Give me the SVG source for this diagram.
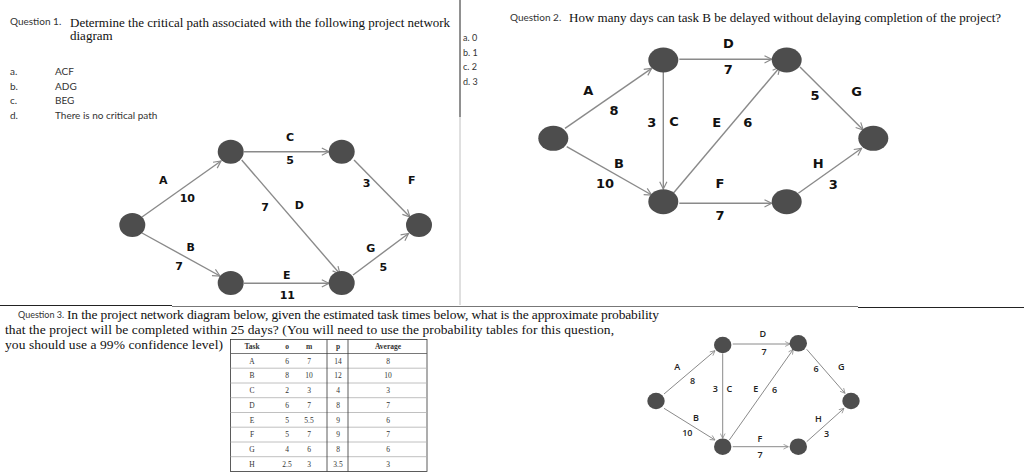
<svg xmlns="http://www.w3.org/2000/svg" width="1024" height="474" viewBox="0 0 1024 474">
<defs>
<marker id="arr" viewBox="0 0 10 10" refX="9" refY="5" markerWidth="9" markerHeight="9" markerUnits="userSpaceOnUse" orient="auto">
<path d="M1,1 L9,5 L1,9" fill="none" stroke="#8a8a8a" stroke-width="1.3"/>
</marker>
<marker id="arrs" viewBox="0 0 10 10" refX="9" refY="5" markerWidth="6" markerHeight="6" markerUnits="userSpaceOnUse" orient="auto">
<path d="M1,1 L9,5 L1,9" fill="none" stroke="#8a8a8a" stroke-width="1.3"/>
</marker>
</defs>
<style>
.q{font-family:"Liberation Serif","Times New Roman",serif;font-size:13px;fill:#111}
.q3{font-size:13.5px}
.s{font-family:Lato,"Liberation Sans",sans-serif;font-size:10px;fill:#333}
.l1{font-family:"DejaVu Sans",Verdana,sans-serif;font-weight:bold;font-size:11px;fill:#111;text-anchor:middle}
.l2{font-family:"DejaVu Sans",Verdana,sans-serif;font-weight:bold;font-size:13px;fill:#111;text-anchor:middle}
.l3{font-family:"Open Sans","Liberation Sans",sans-serif;font-weight:600;font-size:9px;fill:#222;text-anchor:middle}
.n{fill:#4d4d4d}
.e{stroke:#8a8a8a;stroke-width:1.4;fill:none;marker-end:url(#arr)}
.es{stroke:#8a8a8a;stroke-width:1;fill:none;marker-end:url(#arrs)}
.t{font-family:"Liberation Serif","Times New Roman",serif;font-size:7.5px;fill:#333;text-anchor:middle}
.th{font-weight:bold}
.rl{stroke:#b0b0b0;stroke-width:0.8}
.bl{stroke:#333;stroke-width:0.8;fill:none}
</style>
<rect width="1024" height="474" fill="#fff"/>

<g id="dividers">
<line x1="460" y1="0" x2="460" y2="117" stroke="#222" stroke-width="1"/>
<line x1="460" y1="117" x2="460" y2="305" stroke="#c0c0c0" stroke-width="1"/>
<line x1="0" y1="305.5" x2="172" y2="305.5" stroke="#222" stroke-width="1"/>
<line x1="172" y1="306.5" x2="858" y2="306.5" stroke="#777" stroke-width="1"/>
<line x1="858" y1="307.5" x2="1024" y2="307.5" stroke="#222" stroke-width="1"/>
</g>

<g id="question1">
<text class="s" x="10" y="25">Question 1.</text>
<text class="q" x="70" y="27">Determine the critical path associated with the following project network</text>
<text class="q" x="70" y="40">diagram</text>
<text class="s" x="10" y="75">a.</text><text class="s" x="55" y="75">ACF</text>
<text class="s" x="10" y="90">b.</text><text class="s" x="55" y="90">ADG</text>
<text class="s" x="10" y="104">c.</text><text class="s" x="55" y="104">BEG</text>
<text class="s" x="10" y="118.5">d.</text><text class="s" x="55" y="118.5">There is no critical path</text>
</g>

<g id="question2">
<text class="s" x="510" y="21">Question 2.</text>
<text class="q" x="569" y="22">How many days can task B be delayed without delaying completion of the project?</text>
<text class="s" x="463" y="41" style="font-size:9px">a. 0</text>
<text class="s" x="463" y="55.5" style="font-size:9px">b. 1</text>
<text class="s" x="463" y="70" style="font-size:9px">c. 2</text>
<text class="s" x="463" y="84.5" style="font-size:9px">d. 3</text>
</g>

<g id="question3">
<text class="s" x="18" y="318" style="font-size:9px">Question 3.</text>
<text class="q q3" x="67" y="319" textLength="592">In the project network diagram below, given the estimated task times below, what is the approximate probability</text>
<text class="q q3" x="5" y="334" textLength="609">that the project will be completed within 25 days? (You will need to use the probability tables for this question,</text>
<text class="q q3" x="5" y="349" textLength="218">you should use a 99% confidence level)</text>
</g>

<!-- Graph 1 -->
<g id="g1-connectors">
<line class="e" x1="142" y1="217" x2="221" y2="161"/>
<line class="e" x1="142" y1="233" x2="220" y2="276"/>
<line class="e" x1="244" y1="151.7" x2="329" y2="151.7"/>
<line class="e" x1="241.7" y1="160" x2="340" y2="274"/>
<line class="e" x1="244" y1="283.3" x2="329" y2="283.3"/>
<line class="e" x1="354" y1="160" x2="410" y2="217"/>
<line class="e" x1="353" y1="275" x2="408.5" y2="233.5"/>
</g>
<g id="g1-n1"><ellipse class="n" cx="132.3" cy="225" rx="13" ry="12"/></g>
<g id="g1-n2"><ellipse class="n" cx="230.7" cy="151.7" rx="13" ry="12"/></g>
<g id="g1-n3"><ellipse class="n" cx="341.7" cy="151.7" rx="13" ry="12"/></g>
<g id="g1-n4"><ellipse class="n" cx="419" cy="225" rx="13" ry="12"/></g>
<g id="g1-n5"><ellipse class="n" cx="230.7" cy="283" rx="13" ry="12"/></g>
<g id="g1-n6"><ellipse class="n" cx="341.7" cy="283" rx="13" ry="12"/></g>
<g id="g1-labels">
<text class="l1" x="290" y="140.5">C</text>
<text class="l1" x="290" y="164">5</text>
<text class="l1" x="163.3" y="184">A</text>
<text class="l1" x="187.3" y="202.3">10</text>
<text class="l1" x="265" y="210.7">7</text>
<text class="l1" x="299.3" y="209">D</text>
<text class="l1" x="366.7" y="187.3">3</text>
<text class="l1" x="411.7" y="184">F</text>
<text class="l1" x="190.7" y="250.7">B</text>
<text class="l1" x="179" y="270">7</text>
<text class="l1" x="370.7" y="251.7">G</text>
<text class="l1" x="383.3" y="270.7">5</text>
<text class="l1" x="286.7" y="279">E</text>
<text class="l1" x="287.3" y="299">11</text>
</g>

<!-- Graph 2 -->
<g id="g2-connectors">
<line class="e" x1="565" y1="128.3" x2="651.7" y2="68.3"/>
<line class="e" x1="566.7" y1="146.7" x2="651.7" y2="195"/>
<line class="e" x1="663.3" y1="72" x2="663.3" y2="189"/>
<line class="e" x1="679.3" y1="59.3" x2="771.7" y2="59.3"/>
<line class="e" x1="673.3" y1="193.3" x2="780" y2="67"/>
<line class="e" x1="679.3" y1="203.3" x2="771.7" y2="203.3"/>
<line class="e" x1="800" y1="67" x2="863.3" y2="130"/>
<line class="e" x1="798.3" y1="193.3" x2="861.7" y2="148.3"/>
</g>
<g id="g2-n1"><ellipse class="n" cx="553.3" cy="138.3" rx="15" ry="12.5"/></g>
<g id="g2-n2"><ellipse class="n" cx="663.3" cy="60" rx="15" ry="12.5"/></g>
<g id="g2-n3"><ellipse class="n" cx="786.7" cy="60" rx="15" ry="12.5"/></g>
<g id="g2-n4"><ellipse class="n" cx="873.3" cy="138.3" rx="15" ry="12.5"/></g>
<g id="g2-n5"><ellipse class="n" cx="663.3" cy="201.7" rx="15" ry="12.5"/></g>
<g id="g2-n6"><ellipse class="n" cx="786.7" cy="201.7" rx="15" ry="12.5"/></g>
<g id="g2-labels">
<text class="l2" x="728.3" y="48">D</text>
<text class="l2" x="728.3" y="74">7</text>
<text class="l2" x="588.3" y="94.7">A</text>
<text class="l2" x="614" y="114.7">8</text>
<text class="l2" x="651.7" y="127.4">3</text>
<text class="l2" x="674" y="126.4">C</text>
<text class="l2" x="716.7" y="127.4">E</text>
<text class="l2" x="747.7" y="127.4">6</text>
<text class="l2" x="815" y="99.7">5</text>
<text class="l2" x="856.7" y="96.4">G</text>
<text class="l2" x="619" y="168">B</text>
<text class="l2" x="605" y="188">10</text>
<text class="l2" x="720" y="188">F</text>
<text class="l2" x="720" y="219.7">7</text>
<text class="l2" x="818.3" y="168">H</text>
<text class="l2" x="833.3" y="188.7">3</text>
</g>

<!-- Table -->
<g id="table">
<rect class="bl" x="230.5" y="339.5" width="196.5" height="132"/>
<line x1="230.5" y1="353.5" x2="427" y2="353.5" stroke="#555" stroke-width="0.8"/>
<line class="rl" x1="230.5" y1="368.2" x2="427" y2="368.2"/>
<line class="rl" x1="230.5" y1="383" x2="427" y2="383"/>
<line class="rl" x1="230.5" y1="397.7" x2="427" y2="397.7"/>
<line class="rl" x1="230.5" y1="412.5" x2="427" y2="412.5"/>
<line class="rl" x1="230.5" y1="427.2" x2="427" y2="427.2"/>
<line class="rl" x1="230.5" y1="442" x2="427" y2="442"/>
<line class="rl" x1="230.5" y1="456.7" x2="427" y2="456.7"/>
<line x1="327" y1="339.5" x2="327" y2="471.5" stroke="#333" stroke-width="0.8"/>
<line x1="348" y1="339.5" x2="348" y2="471.5" stroke="#333" stroke-width="0.8"/>
<text class="t th" x="252" y="349">Task</text><text class="t th" x="287" y="349">o</text><text class="t th" x="309" y="349">m</text><text class="t th" x="338" y="349">p</text><text class="t th" x="388" y="349">Average</text>
<text class="t" x="252" y="363.5">A</text><text class="t" x="287" y="363.5">6</text><text class="t" x="309" y="363.5">7</text><text class="t" x="338" y="363.5">14</text><text class="t" x="388" y="363.5">8</text>
<text class="t" x="252" y="378.2">B</text><text class="t" x="287" y="378.2">8</text><text class="t" x="309" y="378.2">10</text><text class="t" x="338" y="378.2">12</text><text class="t" x="388" y="378.2">10</text>
<text class="t" x="252" y="393">C</text><text class="t" x="287" y="393">2</text><text class="t" x="309" y="393">3</text><text class="t" x="338" y="393">4</text><text class="t" x="388" y="393">3</text>
<text class="t" x="252" y="407.7">D</text><text class="t" x="287" y="407.7">6</text><text class="t" x="309" y="407.7">7</text><text class="t" x="338" y="407.7">8</text><text class="t" x="388" y="407.7">7</text>
<text class="t" x="252" y="422.5">E</text><text class="t" x="287" y="422.5">5</text><text class="t" x="309" y="422.5">5.5</text><text class="t" x="338" y="422.5">9</text><text class="t" x="388" y="422.5">6</text>
<text class="t" x="252" y="437.2">F</text><text class="t" x="287" y="437.2">5</text><text class="t" x="309" y="437.2">7</text><text class="t" x="338" y="437.2">9</text><text class="t" x="388" y="437.2">7</text>
<text class="t" x="252" y="452">G</text><text class="t" x="287" y="452">4</text><text class="t" x="309" y="452">6</text><text class="t" x="338" y="452">8</text><text class="t" x="388" y="452">6</text>
<text class="t" x="252" y="466.7">H</text><text class="t" x="287" y="466.7">2.5</text><text class="t" x="309" y="466.7">3</text><text class="t" x="338" y="466.7">3.5</text><text class="t" x="388" y="466.7">3</text>
</g>

<!-- Graph 3 -->
<g id="g3-connectors">
<line class="es" x1="664" y1="394" x2="715" y2="350.7"/>
<line class="es" x1="664" y1="408.3" x2="715" y2="440"/>
<line class="es" x1="722.7" y1="353.5" x2="722.7" y2="438.3"/>
<line class="es" x1="732.7" y1="344" x2="790" y2="344"/>
<line class="es" x1="729.3" y1="440" x2="793.3" y2="349.3"/>
<line class="es" x1="732.7" y1="446.7" x2="788.3" y2="446.7"/>
<line class="es" x1="806.7" y1="349.3" x2="845" y2="393.3"/>
<line class="es" x1="806.7" y1="441.7" x2="844" y2="408.3"/>
</g>
<g id="g3-n1"><ellipse class="n" cx="656" cy="401" rx="8.7" ry="8.3"/></g>
<g id="g3-n2"><ellipse class="n" cx="722.7" cy="345" rx="8.7" ry="8.3"/></g>
<g id="g3-n3"><ellipse class="n" cx="798.3" cy="343.3" rx="8.7" ry="8.3"/></g>
<g id="g3-n4"><ellipse class="n" cx="851" cy="401" rx="8.7" ry="8.3"/></g>
<g id="g3-n5"><ellipse class="n" cx="722.7" cy="446.7" rx="8.7" ry="8.3"/></g>
<g id="g3-n6"><ellipse class="n" cx="798.3" cy="446.7" rx="8.7" ry="8.3"/></g>
<g id="g3-labels">
<text class="l3" x="762.7" y="337.2">D</text>
<text class="l3" x="764" y="355">7</text>
<text class="l3" x="677.3" y="370">A</text>
<text class="l3" x="692.7" y="384">8</text>
<text class="l3" x="715.3" y="392.2">3</text>
<text class="l3" x="729.3" y="392.2">C</text>
<text class="l3" x="755.7" y="392.2">E</text>
<text class="l3" x="774.7" y="393.2">6</text>
<text class="l3" x="816" y="372">6</text>
<text class="l3" x="841.3" y="370">G</text>
<text class="l3" x="696" y="420.5">B</text>
<text class="l3" x="687.3" y="436">10</text>
<text class="l3" x="760" y="441.5">F</text>
<text class="l3" x="760" y="458.2">7</text>
<text class="l3" x="818.3" y="422.2">H</text>
<text class="l3" x="826.7" y="436.5">3</text>
</g>
</svg>
